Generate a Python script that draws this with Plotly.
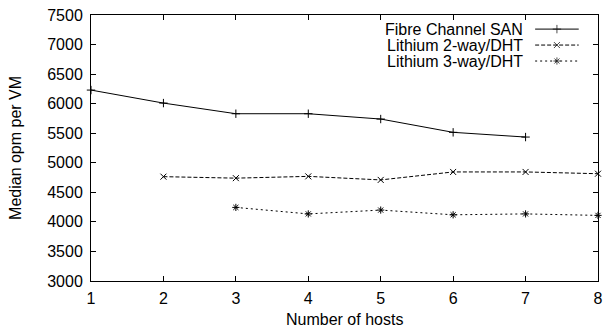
import plotly.graph_objects as go

hosts_fc = [1, 2, 3, 4, 5, 6, 7]
fc_san = [6230, 6010, 5830, 5830, 5740, 5515, 5435]

hosts_2way = [2, 3, 4, 5, 6, 7, 8]
lithium_2way = [4765, 4740, 4770, 4710, 4845, 4845, 4815]

hosts_3way = [3, 4, 5, 6, 7, 8]
lithium_3way = [4245, 4135, 4200, 4120, 4135, 4110]

series_names = ["Fibre Channel SAN", "Lithium 2-way/DHT", "Lithium 3-way/DHT"]
x_ticks = [1, 2, 3, 4, 5, 6, 7, 8]
y_ticks = list(range(3000, 7501, 500))

FONT = "Liberation Sans, Arial, Helvetica, sans-serif"
INK = "#000000"
FS = 16

styles = [
    dict(dash="solid", symbol="cross-thin"),
    dict(dash="4px,2px", symbol="x-thin"),
    dict(dash="2px,3px", symbol="asterisk"),
]

fig = go.Figure()
data = [(hosts_fc, fc_san), (hosts_2way, lithium_2way), (hosts_3way, lithium_3way)]
for (xs, ys), name, st in zip(data, series_names, styles):
    fig.add_trace(go.Scatter(
        x=xs, y=ys, name=name, mode="lines+markers",
        line=dict(color=INK, width=1, dash=st["dash"]),
        marker=dict(symbol=st["symbol"], size=6, color=INK,
                    line=dict(color=INK, width=1)),
        showlegend=False, cliponaxis=False,
    ))

# custom legend (text right-aligned, sample on the right, gnuplot style)
leg_y = [0.947, 0.887, 0.827]
for name, st, ly in zip(series_names, styles, leg_y):
    fig.add_annotation(xref="paper", yref="paper", x=0.857, y=ly,
                       text=name, showarrow=False, xanchor="right",
                       yanchor="middle",
                       font=dict(family=FONT, size=FS, color=INK))
    fig.add_trace(go.Scatter(
        x=[0.876, 0.919, 0.962], y=[ly, ly, ly], xaxis="x2", yaxis="y2",
        mode="lines+markers",
        line=dict(color=INK, width=1, dash=st["dash"]),
        marker=dict(symbol=st["symbol"], size=[0, 6, 0], color=INK,
                    line=dict(color=INK, width=1)),
        showlegend=False, hoverinfo="skip",
    ))

# axis titles as annotations for precise placement
fig.add_annotation(xref="paper", yref="paper", x=0.5, y=-0.143,
                   text="Number of hosts", showarrow=False,
                   xanchor="center", yanchor="middle",
                   font=dict(family=FONT, size=FS, color=INK))
fig.add_annotation(xref="paper", yref="paper", x=-0.15, y=0.5,
                   text="Median opm per VM", showarrow=False, textangle=-90,
                   xanchor="center", yanchor="middle",
                   font=dict(family=FONT, size=FS, color=INK))

axis_common = dict(
    showline=True, linecolor=INK, linewidth=1, mirror="ticks",
    ticks="inside", ticklen=5, tickcolor=INK, tickwidth=1,
    showgrid=False, zeroline=False, automargin=False,
    ticklabeloverflow="allow",
    tickfont=dict(family=FONT, size=FS, color=INK),
)

fig.update_layout(
    width=605, height=328,
    margin=dict(l=91, r=7, t=15, b=47),
    paper_bgcolor="white", plot_bgcolor="white",
    font=dict(family=FONT, size=FS, color=INK),
    xaxis=dict(range=[1, 8], tickvals=x_ticks, ticklabelstandoff=3,
               **axis_common),
    yaxis=dict(range=[3000, 7500], tickvals=y_ticks, ticklabelstandoff=4,
               **axis_common),
    xaxis2=dict(range=[0, 1], overlaying="x", visible=False, anchor="y2"),
    yaxis2=dict(range=[0, 1], overlaying="y", visible=False, anchor="x2"),
)

fig.write_html(
    "out.html",
    config={"displayModeBar": False},
    post_script="document.body.style.margin='0';document.body.style.overflow='hidden';",
)
